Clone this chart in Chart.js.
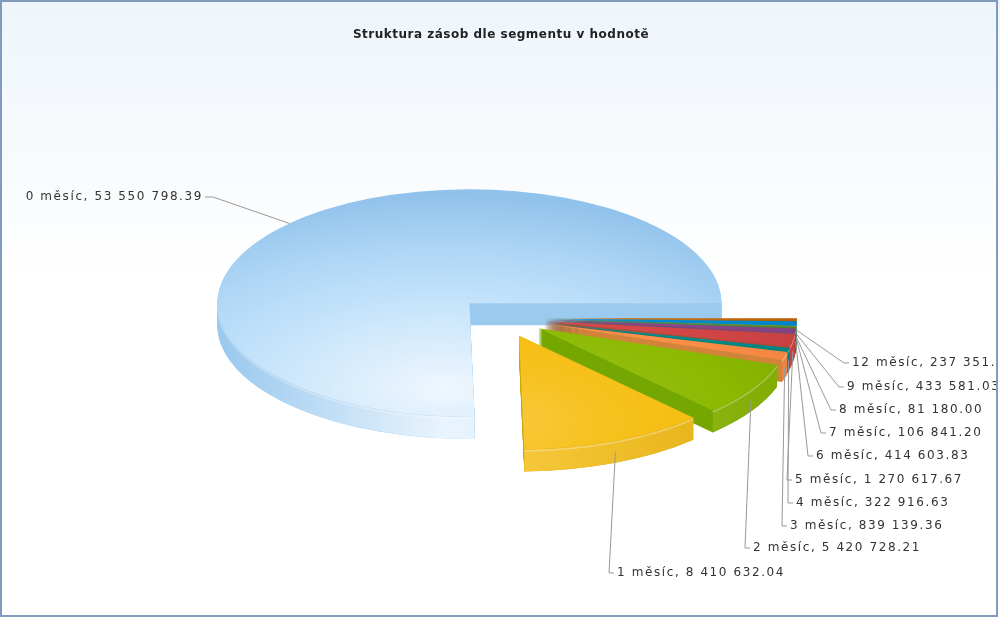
<!DOCTYPE html>
<html>
<head>
<meta charset="utf-8">
<script src="https://cdn.jsdelivr.net/npm/chart.js@4.4.1/dist/chart.umd.min.js"></script>
<style>
html,body{margin:0;padding:0;background:#ffffff;}
canvas{display:block;}
</style>
</head>
<body>
<canvas id="c" width="1000" height="618"></canvas>
<script>
// ---------------- data ----------------
const chartTitle = 'Struktura zásob dle segmentu v hodnotě';
const categories = ['0 měsíc', '1 měsíc', '2 měsíc', '3 měsíc', '4 měsíc', '5 měsíc',
                    '6 měsíc', '7 měsíc', '8 měsíc', '9 měsíc', '12 měsíc'];
const values = [53550798.39, 8410632.04, 5420728.21, 839139.36, 322916.63, 1270617.67,
                414603.83, 106841.20, 81180.00, 433581.03, 237351.50];

// ---------------- style ----------------
const sliceColors = ['#AFD8F8', '#F6BD0F', '#8BBA00', '#FF8E46', '#008E8E', '#D64646',
                     '#8E468E', '#588526', '#B3AA00', '#008ED6', '#CC6600'];
// label text position (x, y, align) per category
const labelPlacement = [
  [203, 197, 'right'], [617, 573, 'left'], [753, 548, 'left'], [790, 526, 'left'],
  [796, 503, 'left'], [795, 480, 'left'], [816, 456, 'left'], [829, 433, 'left'],
  [839, 410, 'left'], [847, 387, 'left'], [852, 363, 'left']
];
const R = 252, K = 0.452, DEPTH = 22, EXPLODE_MAIN = 47, EXPLODE_OTHER = 42;

function hexRgb(h) {
  if (h.startsWith('rgb')) return h.match(/\d+/g).map(Number);
  h = h.replace('#', '');
  return [parseInt(h.slice(0, 2), 16), parseInt(h.slice(2, 4), 16), parseInt(h.slice(4, 6), 16)];
}
function mix(h, t, a) {
  const c = hexRgb(h), d = hexRgb(t);
  return 'rgb(' + [0, 1, 2].map(i => Math.round(c[i] + (d[i] - c[i]) * a)).join(',') + ')';
}
function fmt(v) {
  const p = v.toFixed(2).split('.');
  return p[0].replace(/\B(?=(\d{3})+(?!\d))/g, ' ') + '.' + p[1];
}

// Chart.js draws clockwise; the reference runs counter-clockwise from 3 o'clock
const chartOrder = categories.map((_, i) => i).reverse();
const chartLabels = chartOrder.map(i => categories[i]);
const chartValues = chartOrder.map(i => values[i]);
const chartColors = chartOrder.map(i => sliceColors[i]);
const explodeOf = cat => cat === 0 ? EXPLODE_MAIN : EXPLODE_OTHER;

function topStops(cat, base) {
  if (cat === 0) {
    return [[0, mix(base, '#ffffff', 0.8)], [0.25, mix(base, '#ffffff', 0.5)],
            [0.5, mix(base, '#ffffff', 0.22)], [0.75, mix(base, '#7fa9cc', 0.08)], [1, mix(base, '#4a90cc', 0.3)]];
  }
  return [[0, mix(base, '#ffffff', 0.2)], [0.25, mix(base, '#ffffff', 0.07)],
          [0.5, base], [1, mix(base, '#000000', 0.15)]];
}

function topFill(context) {
  const chart = context.chart, area = chart.chartArea;
  const base = chartColors[context.dataIndex];
  if (!area) return base;
  const cat = chartOrder[context.dataIndex];
  const cx = (area.left + area.right) / 2, cy = (area.top + area.bottom) / 2;
  const gx = cx - 0.1 * R, gy = cy + 0.75 * R;
  const g = chart.ctx.createRadialGradient(gx, gy, 0, gx, gy, 1.7 * R);
  topStops(cat, base).forEach(s => g.addColorStop(s[0], s[1]));
  return g;
}

const pie3d = {
  id: 'pie3d',
  beforeDraw(chart) {
    const {ctx, width, height} = chart;
    const g = ctx.createLinearGradient(0, 0, 0, 280);
    g.addColorStop(0, '#eef5fb');
    g.addColorStop(1, '#ffffff');
    ctx.save();
    ctx.fillStyle = g;
    ctx.fillRect(0, 0, width, height);
    ctx.restore();
  },
  beforeDatasetsDraw(chart) {
    const ctx = chart.ctx, meta = chart.getDatasetMeta(0);
    const n = meta.data.length;
    const order = [n - 1].concat(Array.from({length: n - 1}, (_, i) => i));
    for (const pos of order) {
      const el = meta.data[pos];
      const cat = chartOrder[pos];
      const base = chartColors[pos];
      const {x, y, startAngle, endAngle, outerRadius} = el.getProps(['x', 'y', 'startAngle', 'endAngle', 'outerRadius'], true);
      const mid = (startAngle + endAngle) / 2;
      const ex = Math.cos(mid) * explodeOf(cat), ey = Math.sin(mid) * explodeOf(cat);
      const applyT = dy => { ctx.translate(0, dy); ctx.translate(x, y); ctx.scale(1, K); ctx.translate(-x, -y); ctx.translate(ex, ey); };
      // extruded body (cut faces)
      ctx.fillStyle = cat === 0 ? mix(base, '#4a90cc', 0.2) : mix(base, '#1f5a10', 0.2);
      for (let d = DEPTH; d >= 1; d--) {
        ctx.save();
        applyT(d);
        ctx.beginPath();
        ctx.moveTo(x, y);
        ctx.arc(x, y, outerRadius, startAngle, endAngle);
        ctx.closePath();
        ctx.fill();
        ctx.restore();
      }
      // outer curved wall (front-facing part)
      const a1 = Math.max(startAngle, 0), a2 = Math.min(endAngle, Math.PI);
      const sx = x + ex, sy = y + ey * K;
      if (a2 > a1) {
        const wg = ctx.createLinearGradient(sx - outerRadius, 0, sx + outerRadius, 0);
        if (cat === 0) {
          wg.addColorStop(0, mix(base, '#4a90cc', 0.22));
          wg.addColorStop(0.45, mix(base, '#ffffff', 0.72));
          wg.addColorStop(1, mix(base, '#ffffff', 0.4));
        } else {
          wg.addColorStop(0, mix(base, '#000000', 0.06));
          wg.addColorStop(0.45, mix(base, '#ffffff', 0.2));
          wg.addColorStop(1, mix(base, '#000000', 0.08));
        }
        ctx.save();
        ctx.fillStyle = wg;
        ctx.beginPath();
        ctx.ellipse(sx, sy, outerRadius, outerRadius * K, 0, a1, a2);
        ctx.ellipse(sx, sy + DEPTH, outerRadius, outerRadius * K, 0, a2, a1, true);
        ctx.closePath();
        ctx.fill();
        // soft highlight along the top of the wall
        ctx.strokeStyle = 'rgba(255,255,255,0.3)';
        ctx.lineWidth = 1.5;
        ctx.beginPath();
        ctx.ellipse(sx, sy + 1.5, outerRadius, outerRadius * K, 0, a1, a2);
        ctx.stroke();
        ctx.restore();
      }
      // top face via the library arc element
      ctx.save();
      applyT(0);
      el.draw(ctx);
      ctx.restore();
    }
    return false;
  },
  afterDraw(chart) {
    const ctx = chart.ctx, meta = chart.getDatasetMeta(0);
    // title
    ctx.save();
    ctx.font = 'bold 12px "DejaVu Sans", Verdana, sans-serif';
    ctx.letterSpacing = '0.5px';
    ctx.fillStyle = '#222222';
    ctx.textAlign = 'center';
    ctx.textBaseline = 'middle';
    ctx.fillText(chartTitle, 501, 35);
    ctx.restore();
    // labels
    ctx.save();
    ctx.beginPath();
    ctx.rect(0, 0, 996, 618);
    ctx.clip();
    ctx.font = '12px "DejaVu Sans", Verdana, sans-serif';
    ctx.letterSpacing = '1.6px';
    ctx.fillStyle = '#333333';
    ctx.textBaseline = 'middle';
    ctx.strokeStyle = '#999999';
    ctx.lineWidth = 1;
    meta.data.forEach((el, pos) => {
      const cat = chartOrder[pos];
      const {x, y, startAngle, endAngle, outerRadius} = el.getProps(['x', 'y', 'startAngle', 'endAngle', 'outerRadius'], true);
      const mid = (startAngle + endAngle) / 2;
      const ex = Math.cos(mid) * explodeOf(cat), ey = Math.sin(mid) * explodeOf(cat);
      const px = x + ex + outerRadius * Math.cos(mid);
      let py = y + (ey + outerRadius * Math.sin(mid)) * K;
      if (Math.sin(mid) > 0) py += DEPTH / 2;
      const [lx, ly, align] = labelPlacement[cat];
      ctx.beginPath();
      ctx.moveTo(px, py);
      if (align === 'left') { ctx.lineTo(lx - 8, ly); ctx.lineTo(lx - 3, ly); }
      else { ctx.lineTo(lx + 10, ly); ctx.lineTo(lx + 2, ly); }
      ctx.stroke();
      ctx.textAlign = align;
      ctx.fillText(categories[cat] + ', ' + fmt(values[cat]), lx, ly);
    });
    ctx.restore();
    // frame
    ctx.save();
    ctx.strokeStyle = '#7f9cbc';
    ctx.lineWidth = 2;
    ctx.strokeRect(1, 1, 996, 615);
    ctx.restore();
  }
};

new Chart(document.getElementById('c'), {
  type: 'pie',
  data: {
    labels: chartLabels,
    datasets: [{
      data: chartValues,
      backgroundColor: topFill,
      borderWidth: 0
    }]
  },
  options: {
    responsive: false,
    animation: false,
    events: [],
    rotation: 90,
    radius: R,
    layout: { padding: { left: 20, right: 14, top: 20, bottom: 2 } },
    plugins: { legend: { display: false }, tooltip: { enabled: false }, title: { display: false } }
  },
  plugins: [pie3d]
});
</script>
</body>
</html>
